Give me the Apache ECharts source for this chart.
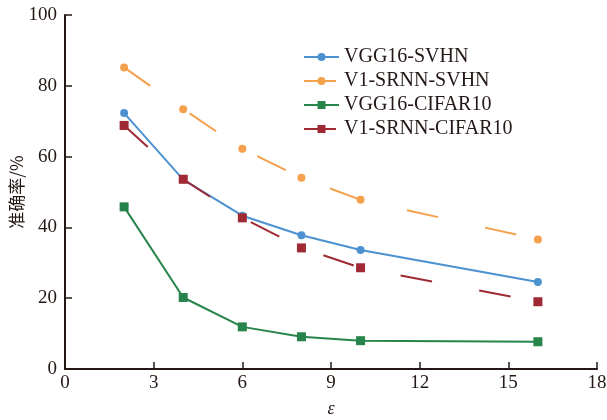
<!DOCTYPE html>
<html>
<head>
<meta charset="utf-8">
<script src="https://cdn.jsdelivr.net/npm/echarts@6/dist/echarts.min.js"></script>
<style>
  html, body { margin: 0; padding: 0; background: #fff; }
  #container { width: 607px; height: 420px; }
</style>
</head>
<body>
<div id="container"></div>
<script>
var epsilons = [2, 4, 6, 8, 10, 16];
var vggSvhn = [72.3, 53.5, 43.3, 37.8, 33.6, 24.6];
var srnnSvhn = [85.2, 73.4, 62.2, 54.0, 47.8, 36.6];
var vggCifar = [45.8, 20.2, 11.9, 9.1, 8.0, 7.7];
var srnnCifar = [68.8, 53.6, 42.7, 34.2, 28.6, 19.0];
var seriesNames = ['VGG16-SVHN', 'V1-SRNN-SVHN', 'VGG16-CIFAR10', 'V1-SRNN-CIFAR10'];

document.addEventListener('DOMContentLoaded', function () {
    var chartDom = document.getElementById('container');
    var myChart = echarts.init(chartDom);
    var ink = '#231815';
    var serif = 'Liberation Serif, Times New Roman, serif';

    function pairs(values) {
        return epsilons.map(function (x, i) { return [x, values[i]]; });
    }

    function makeSeries(name, values, color, symbol, dashed) {
        return {
            name: name,
            type: 'line',
            data: pairs(values),
            symbol: symbol,
            symbolSize: symbol === 'rect' ? 9 : 8,
            lineStyle: {
                color: color,
                width: 2,
                type: dashed ? [32, 48] : 'solid'
            },
            itemStyle: { color: color },
            emphasis: { disabled: true }
        };
    }

    var option = {
        animation: false,
        grid: {
            left: 65,
            right: 10,
            top: 15,
            bottom: 51,
            containLabel: false,
            outerBoundsMode: 'none'
        },
        legend: {
            orient: 'vertical',
            left: 303,
            top: 47,
            padding: 0,
            itemWidth: 35,
            itemHeight: 10,
            itemGap: 4,
            data: seriesNames,
            textStyle: {
                fontFamily: serif,
                fontSize: 20,
                color: ink,
                lineHeight: 20
            }
        },
        xAxis: {
            type: 'value',
            min: 0,
            max: 18,
            interval: 3,
            name: 'ε',
            nameLocation: 'middle',
            nameGap: 31,
            nameMoveOverlap: false,
            nameTextStyle: {
                fontFamily: serif,
                fontStyle: 'italic',
                fontSize: 18,
                color: ink
            },
            axisLine: { lineStyle: { color: ink, width: 2 } },
            axisTick: { show: true, inside: true, length: 7, lineStyle: { color: ink, width: 1.5 } },
            axisLabel: {
                fontFamily: serif,
                fontSize: 19,
                color: ink,
                margin: 5,
                showMaxLabel: true,
                showMinLabel: true
            },
            splitLine: { show: false }
        },
        yAxis: {
            type: 'value',
            min: 0,
            max: 100,
            interval: 20,
            name: '准确率/%',
            nameLocation: 'middle',
            nameRotate: 90,
            nameGap: 40,
            nameMoveOverlap: false,
            nameTextStyle: {
                fontFamily: 'Noto Sans CJK SC, ' + serif,
                fontSize: 17,
                color: ink
            },
            axisLine: { show: true, lineStyle: { color: ink, width: 2 } },
            axisTick: { show: true, inside: true, length: 7, lineStyle: { color: ink, width: 1.5 } },
            axisLabel: {
                fontFamily: serif,
                fontSize: 19,
                color: ink,
                margin: 8
            },
            splitLine: { show: false }
        },
        series: [
            makeSeries(seriesNames[0], vggSvhn, '#4c91d0', 'circle', false),
            makeSeries(seriesNames[1], srnnSvhn, '#f5a04c', 'circle', true),
            makeSeries(seriesNames[2], vggCifar, '#27844b', 'rect', false),
            makeSeries(seriesNames[3], srnnCifar, '#9f2a34', 'rect', true)
        ]
    };

    option && myChart.setOption(option);
});
</script>
</body>
</html>
